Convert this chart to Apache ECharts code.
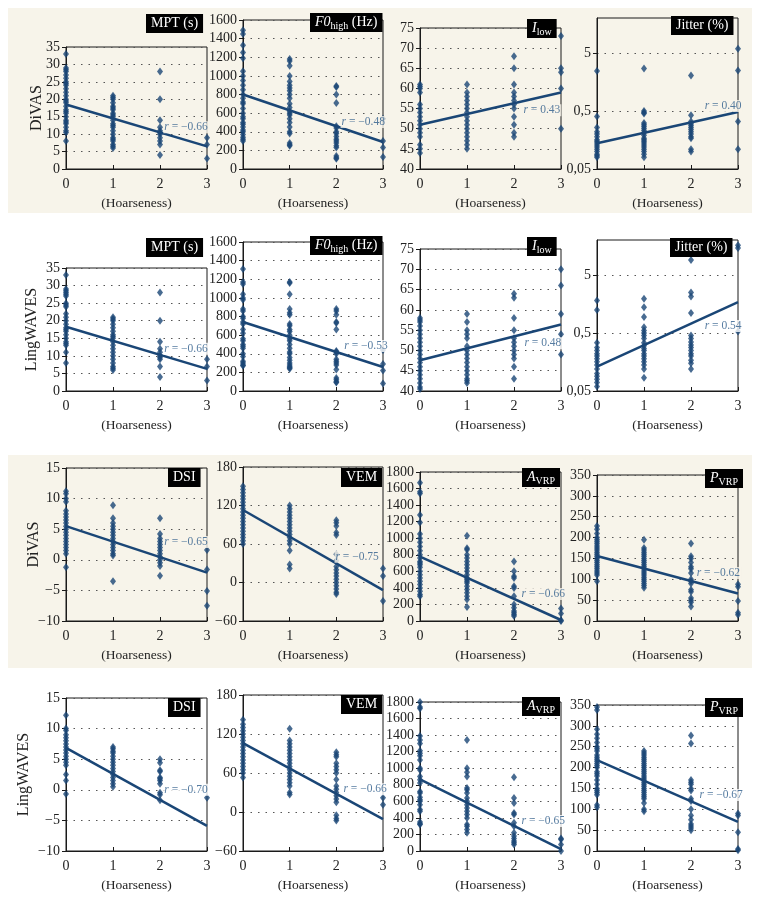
<!DOCTYPE html>
<html><head><meta charset="utf-8">
<script src="https://cdn.jsdelivr.net/npm/echarts@6/dist/echarts.min.js"></script>
<style>html,body{margin:0;padding:0;background:#fff}#c{width:760px;height:900px}</style>
</head><body><div id="c"></div>
<script>
// ---------- DATA ----------
const hoarseness = [0, 1, 2, 3];
const rowNames = ['DiVAS', 'LingWAVES', 'DiVAS', 'LingWAVES'];

// Row 1 : DiVAS
const divasMPT = [
  [33, 29, 28.5, 28, 27, 26, 25, 24.5, 24, 23, 22, 21, 20, 19.5, 19, 18, 17, 16.5, 16, 15, 14, 13.5, 13, 12, 11, 10.5, 8],
  [21, 20.5, 20, 19, 18, 17.5, 17, 16, 15.5, 15, 14, 13, 12.5, 12, 11, 10, 9, 8.5, 8, 7, 6.5, 6],
  [28, 20, 14, 12, 11, 10.5, 10, 9, 8, 7, 4],
  [9, 7, 3]
];
const divasF0high = [
  [1490, 1450, 1330, 1250, 1190, 1050, 1000, 950, 900, 850, 800, 760, 720, 700, 650, 600, 560, 540, 500, 480, 450, 420, 400, 370, 340, 320, 300],
  [1180, 1160, 1110, 1000, 940, 900, 870, 840, 800, 760, 700, 660, 620, 600, 580, 540, 500, 450, 400, 380, 280, 260, 250],
  [890, 880, 800, 710, 460, 440, 400, 380, 350, 320, 300, 280, 250, 230, 140, 120, 110],
  [540, 300, 230, 130]
];
const divasIlow = [
  [61, 60.5, 60, 59, 56, 55, 54, 53, 52, 51, 50, 49, 48, 46, 45, 44],
  [61, 59, 58, 57, 56, 55, 54, 53, 52, 51, 50, 49, 48, 47, 46, 45],
  [68, 65, 61, 59, 58, 57, 56, 55, 53, 51, 49, 48],
  [73, 65, 64, 60, 50]
];
const divasJitter = [
  [2.45, 0.4, 0.26, 0.22, 0.2, 0.18, 0.16, 0.15, 0.14, 0.13, 0.12, 0.11, 0.1, 0.09, 0.085, 0.08],
  [2.7, 0.5, 0.47, 0.45, 0.31, 0.29, 0.27, 0.25, 0.23, 0.21, 0.19, 0.17, 0.16, 0.15, 0.14, 0.13, 0.12, 0.11, 0.1, 0.09, 0.08],
  [2.05, 0.42, 0.33, 0.3, 0.28, 0.26, 0.24, 0.22, 0.2, 0.18, 0.17, 0.11, 0.1],
  [5.9, 2.5, 0.33, 0.11]
];
// Row 2 : LingWAVES
const lingMPT = [
  [33, 29, 28.5, 28, 27.5, 27, 25, 24.5, 24, 22, 21, 20, 19, 18, 17.5, 17, 16, 15, 14, 13.5, 13, 11, 8],
  [21, 20.5, 20, 19, 18, 17, 16, 15.5, 15, 14, 13, 12, 11, 10, 9, 8, 7, 6.5, 6],
  [28, 20, 14, 12, 11, 10, 9.5, 9, 7, 4],
  [9, 7, 3]
];
const lingF0high = [
  [1310, 1170, 1150, 1040, 1000, 980, 880, 860, 800, 780, 740, 720, 660, 620, 560, 540, 500, 480, 460, 400, 370, 320, 300, 280, 270],
  [1170, 1160, 1040, 880, 840, 820, 720, 700, 660, 640, 600, 560, 540, 500, 460, 420, 400, 360, 330, 300, 280, 260, 250, 240],
  [880, 860, 820, 740, 730, 660, 430, 420, 400, 340, 320, 300, 280, 230, 140, 120, 100, 90],
  [440, 290, 220, 80]
];
const lingIlow = [
  [58, 57.5, 57, 56, 55, 54, 53, 52, 51, 50, 49, 48, 47, 46, 45, 44, 43, 42, 41, 40.5],
  [59, 57, 55, 54, 53, 51, 50, 49, 48, 47, 46, 45, 44, 43, 42.5, 42],
  [64, 63, 58, 55, 53, 52, 51, 50, 49, 48, 46, 43],
  [70, 66, 59, 54, 49]
];
const lingJitter = [
  [1.82, 1.25, 0.34, 0.28, 0.25, 0.22, 0.2, 0.18, 0.16, 0.14, 0.12, 0.1, 0.09, 0.08, 0.07, 0.06],
  [1.94, 1.39, 0.94, 0.63, 0.55, 0.5, 0.45, 0.4, 0.34, 0.3, 0.27, 0.25, 0.22, 0.2, 0.18, 0.16, 0.14, 0.12, 0.085],
  [9, 2.5, 2.13, 1.1, 0.45, 0.4, 0.35, 0.31, 0.28, 0.25, 0.22, 0.2, 0.17, 0.15, 0.12],
  [16.3, 14.6, 0.53]
];
// Row 3 : DiVAS
const divasDSI = [
  [11.2, 10.8, 10, 9.5, 8, 7.5, 7, 6.5, 6, 5.5, 5, 4.5, 4, 3.5, 3, 2.5, 2, 1.5, 1, -1.2],
  [8.9, 6.8, 6, 5.5, 5, 4.5, 4, 3.5, 3, 2.5, 2, 1.5, 1, 0.7, -3.5],
  [6.8, 4.2, 3.5, 3, 2.5, 2, 1.5, 1, 0.5, 0, -0.5, -1, -2.6],
  [1.6, -1.6, -5.1, -7.5]
];
const divasVEM = [
  [150, 145, 140, 135, 130, 125, 120, 115, 110, 105, 100, 95, 90, 85, 80, 75, 70, 65, 60],
  [120, 115, 110, 105, 100, 95, 90, 85, 80, 75, 70, 65, 60, 50, 28, 22],
  [97, 93, 88, 78, 74, 44, 34, 25, 20, 15, 10, 5, 0, -5, -10, -15, -18],
  [22, 10, -29]
];
const divasAVRP = [
  [1670, 1560, 1540, 1280, 1190, 1050, 1000, 950, 900, 850, 800, 760, 720, 700, 680, 650, 600, 560, 520, 480, 440, 400, 360, 320, 300],
  [1030, 880, 860, 800, 760, 720, 680, 640, 600, 560, 520, 500, 480, 460, 420, 380, 340, 300, 260, 170],
  [720, 600, 540, 520, 420, 400, 300, 200, 160, 120, 100, 80, 60],
  [150, 90, 10, 0]
];
const divasPVRP = [
  [228, 220, 210, 200, 195, 190, 185, 180, 175, 170, 165, 160, 155, 150, 145, 140, 135, 130, 125, 120, 115, 110, 95],
  [195, 175, 170, 165, 160, 155, 150, 145, 140, 135, 130, 125, 120, 115, 110, 105, 100, 95, 90, 85, 80],
  [186, 155, 150, 140, 130, 125, 115, 100, 95, 90, 75, 70, 55, 50, 45, 35],
  [88, 82, 48, 20, 15]
];
// Row 4 : LingWAVES
const lingDSI = [
  [12.2, 10, 9.7, 9, 8.5, 8, 7.5, 7, 6.5, 6, 5.5, 5, 4.5, 4, 2.5, 1.5, -0.7],
  [7, 6.7, 6.3, 6, 5.5, 5, 4.5, 4, 3.5, 3, 2.5, 2, 1.5, 1, 0.5],
  [5, 4.4, 3.2, 3, 2, 1.8, 1.5, 1, -0.5, -0.8, -1.7],
  [-1.3]
];
const lingVEM = [
  [142, 135, 130, 125, 120, 115, 110, 105, 100, 95, 90, 85, 80, 75, 70, 65, 60, 53],
  [128, 110, 105, 100, 95, 90, 85, 80, 75, 70, 65, 60, 55, 50, 45, 40, 30, 27],
  [92, 88, 85, 75, 70, 65, 60, 50, 40, 35, 30, 25, 20, 15, -5, -10, -13],
  [22, 11]
];
const lingAVRP = [
  [1800, 1740, 1720, 1390, 1340, 1300, 1210, 1180, 1150, 1100, 1000, 980, 900, 860, 820, 720, 700, 650, 620, 600, 560, 500, 480, 350, 330, 320],
  [1340, 1000, 950, 900, 760, 740, 700, 640, 600, 560, 520, 480, 440, 400, 320, 300, 260, 220],
  [890, 640, 580, 460, 440, 340, 300, 220, 180, 150, 120, 100, 80],
  [150, 140, 80, 0]
];
const lingPVRP = [
  [345, 338, 292, 280, 270, 260, 250, 245, 240, 230, 225, 220, 215, 210, 205, 200, 190, 185, 180, 170, 160, 150, 145, 140, 135, 110, 105],
  [240, 235, 230, 225, 220, 215, 210, 205, 200, 195, 190, 185, 180, 175, 170, 165, 160, 155, 150, 145, 140, 135, 130, 125, 115, 100, 95],
  [277, 258, 170, 165, 160, 150, 145, 125, 120, 100, 85, 75, 65, 60, 55, 50],
  [90, 85, 45, 5, 2]
];

// regression line values at hoarseness 0 and 3
const fitAt0 = [18.5, 800, 51, 0.139,  18.3, 741, 47.6, 0.132,  5.5, 113, 779, 156,  6.85, 106, 864, 218];
const fitAt3 = [6.5, 290, 59, 0.48,    6.3, 258, 56.4, 1.70,   -2.1, -12, 12, 66,   -5.9, -11, 24, 70];
// correlation coefficients
const rValues = [-0.66, -0.48, 0.43, 0.40,  -0.66, -0.53, 0.48, 0.54,  -0.65, -0.75, -0.66, -0.62,  -0.70, -0.66, -0.65, -0.67];
// where each r label sits, in data coordinates [hoarseness, value]
const rLabelAt = [[2.06, 12], [2.08, 505], [2.17, 54.6], [2.26, 0.61],
                  [2.06, 12], [2.14, 483], [2.19, 51.8], [2.26, 0.66],
                  [2.06, 2.9], [1.95, 40], [2.13, 326], [2.09, 115],
                  [2.06, 0], [2.12, 35], [2.13, 362], [2.15, 134]];

// y-axis scales (min, max, interval) per measure
const mptAxis = [0, 35, 5];
const f0Axis = [0, 1600, 200];
const ilowAxis = [40, 75, 5];
const jitterAxis = [0.05, 20];
const jitterTicks = [0.05, 0.5, 5];
const dsiAxis = [-10, 15, 5];
const vemAxis = [-60, 180, 60];
const avrpAxis = [0, 1800, 200];
const pvrpAxis = [0, 350, 50];

const titlesText = [
  'MPT (s)', '{it|F0}{sub|high}{n| (Hz)}', '{it|I}{sub|low}', 'Jitter (%)',
  'MPT (s)', '{it|F0}{sub|high}{n| (Hz)}', '{it|I}{sub|low}', 'Jitter (%)',
  'DSI', 'VEM', '{it|A}{sub|VRP}', '{it|P}{sub|VRP}',
  'DSI', 'VEM', '{it|A}{sub|VRP}', '{it|P}{sub|VRP}'
];

const panelData = [divasMPT, divasF0high, divasIlow, divasJitter,
                   lingMPT, lingF0high, lingIlow, lingJitter,
                   divasDSI, divasVEM, divasAVRP, divasPVRP,
                   lingDSI, lingVEM, lingAVRP, lingPVRP];
const panelAxis = [mptAxis, f0Axis, ilowAxis, null, mptAxis, f0Axis, ilowAxis, null,
                   dsiAxis, vemAxis, avrpAxis, pvrpAxis, dsiAxis, vemAxis, avrpAxis, pvrpAxis];

// ---------- LAYOUT ----------
const colLeft = [66, 243, 420, 597];
const colWidth = [141, 140, 141, 141];
const rowBottom = [169, 391, 621, 851];
const gridTop = [[47, 20, 28, 18], [268, 242, 249, 240], [468, 467, 472, 475], [698, 695, 702, 705]];
const titlePos = [[146, 14], [310, 13], [527, 19], [671, 16],
                  [146, 238], [310, 236], [527, 237], [670, 238],
                  [168, 468], [341, 468], [522, 468], [705, 469],
                  [168, 698], [341, 695], [522, 697], [705, 698]];
const nameGaps = [21, 26, 24, 34];

const FONT = "'Liberation Serif', 'DejaVu Serif', serif";
const NAVY = '#1a4676';
const RCOL = '#2c5b8a';
const BEIGE = '#f7f4ea';
const AXIS_C = '#1a1a1a';

const grids = [], xAxes = [], yAxes = [], series = [], titles = [];

panelData.forEach((cols, k) => {
  const r = Math.floor(k / 4), c = k % 4;
  const top = gridTop[r][c];
  const bg = (r % 2 === 0) ? BEIGE : '#ffffff';
  grids.push({
    left: colLeft[c], top: top, width: colWidth[c], height: rowBottom[r] - top,
    show: true, borderColor: AXIS_C, borderWidth: 1, backgroundColor: 'transparent',
    containLabel: false, outerBoundsMode: 'none'
  });
  xAxes.push({
    gridIndex: k, type: 'value', min: 0, max: 3, interval: 1,
    name: '(Hoarseness)', nameLocation: 'middle', nameGap: 27,
    nameTextStyle: { fontFamily: FONT, fontSize: 13.5, color: '#222' },
    axisLine: { show: true, onZero: false, lineStyle: { color: AXIS_C, width: 1 } },
    axisTick: { show: true, inside: true, length: 4, lineStyle: { color: AXIS_C } },
    axisLabel: { fontFamily: FONT, fontSize: 14, color: '#222', margin: 8 },
    splitLine: { show: false }
  });
  const splitLine = { show: true, lineStyle: { color: '#555', width: 1, type: [1.5, 6] } };
  const yBase = {
    gridIndex: k,
    axisLine: { show: true, onZero: false, lineStyle: { color: AXIS_C, width: 1 } },
    axisTick: { show: true, inside: false, length: 4, lineStyle: { color: AXIS_C } },
    axisLabel: { fontFamily: FONT, fontSize: 14, color: '#222', margin: 6 },
    splitLine: splitLine
  };
  let y;
  if (panelAxis[k] === null) {
    y = Object.assign({}, yBase, {
      type: 'log', logBase: 10, min: jitterAxis[0], max: jitterAxis[1],
      axisTick: Object.assign({}, yBase.axisTick, { customValues: jitterTicks }),
      axisLabel: Object.assign({}, yBase.axisLabel, {
        customValues: jitterTicks,
        formatter: v => String(+v.toPrecision(3)).replace('.', ',')
      })
    });
  } else {
    const a = panelAxis[k];
    y = Object.assign({}, yBase, {
      type: 'value', min: a[0], max: a[1], interval: a[2],
      axisLabel: Object.assign({}, yBase.axisLabel, {
        formatter: v => (v < 0 ? '\u2212' + Math.abs(v) : String(v))
      })
    });
  }
  if (c === 0) {
    y.name = rowNames[r];
    y.nameLocation = 'middle';
    y.nameGap = nameGaps[r];
    y.nameMoveOverlap = false;
    y.nameTextStyle = { fontFamily: FONT, fontSize: 16, color: '#222' };
  }
  yAxes.push(y);

  // scatter points
  const pts = [];
  cols.forEach((vals, i) => vals.forEach(v => pts.push([hoarseness[i], v])));
  series.push({
    type: 'scatter', xAxisIndex: k, yAxisIndex: k, data: pts,
    symbol: 'diamond', symbolSize: [6, 8],
    itemStyle: { color: NAVY }, z: 3, clip: false
  });
  // regression line
  series.push({
    type: 'line', xAxisIndex: k, yAxisIndex: k,
    data: [[hoarseness[0], fitAt0[k]], [hoarseness[3], fitAt3[k]]],
    symbol: 'none', lineStyle: { color: NAVY, width: 2.5 }, z: 4, silent: true
  });
  // r label
  const rv = rValues[k];
  const rTxt = (rv < 0 ? '\u2212' : '') + Math.abs(rv).toFixed(2);
  series.push({
    type: 'scatter', xAxisIndex: k, yAxisIndex: k,
    data: [rLabelAt[k]], symbolSize: 1, itemStyle: { color: 'rgba(0,0,0,0)' }, z: 5, silent: true,
    labelLayout: { hideOverlap: false },
    label: {
      show: true, position: 'right', distance: 0,
      formatter: '{i|r} = ' + rTxt,
      fontFamily: FONT, fontSize: 11.5, color: RCOL,
      backgroundColor: bg, padding: [0, 1],
      rich: { i: { fontStyle: 'italic', fontFamily: FONT, fontSize: 11.5, color: RCOL } }
    }
  });

  // title box
  titles.push({
    left: titlePos[k][0], top: titlePos[k][1], text: titlesText[k],
    backgroundColor: '#000', padding: [1, 5, 1, 5], z: 10,
    textStyle: {
      color: '#fff', fontFamily: FONT, fontSize: 14, fontWeight: 'normal', lineHeight: 17,
      rich: {
        it: { fontStyle: 'italic', color: '#fff', fontFamily: FONT, fontSize: 14, lineHeight: 17 },
        sub: { color: '#fff', fontFamily: FONT, fontSize: 10, lineHeight: 10, verticalAlign: 'bottom' },
        n: { color: '#fff', fontFamily: FONT, fontSize: 14, lineHeight: 17 }
      }
    }
  });
});

const chart = echarts.init(document.getElementById('c'), null, { renderer: 'canvas' });
chart.setOption({
  animation: false,
  backgroundColor: '#ffffff',
  graphic: [
    { type: 'rect', z: -100, silent: true, shape: { x: 8, y: 8, width: 744, height: 205 }, style: { fill: BEIGE } },
    { type: 'rect', z: -100, silent: true, shape: { x: 8, y: 455, width: 744, height: 213 }, style: { fill: BEIGE } }
  ],
  title: titles,
  grid: grids,
  xAxis: xAxes,
  yAxis: yAxes,
  series: series
});
</script>
</body></html>
